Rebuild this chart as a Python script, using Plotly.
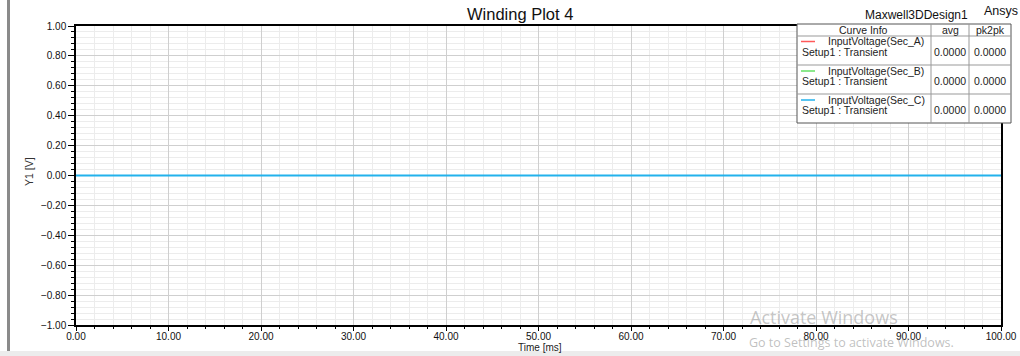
import plotly.graph_objects as go

# ---- data ----
time_ms = [0.0, 100.0]
sec_a = [0.0, 0.0]
sec_b = [0.0, 0.0]
sec_c = [0.0, 0.0]
curve_names = ["InputVoltage(Sec_A)", "InputVoltage(Sec_B)", "InputVoltage(Sec_C)"]
curve_setup = ["Setup1 : Transient", "Setup1 : Transient", "Setup1 : Transient"]
curve_colors = ["#ff5a5a", "#66e066", "#22b2ec"]
curve_widths = [1.0, 1.0, 2.0]
avg_vals = ["0.0000", "0.0000", "0.0000"]
pk2pk_vals = ["0.0000", "0.0000", "0.0000"]

W, H = 1020, 356
L, R, T, B = 76, 19, 26, 31
PW, PH = W - L - R, H - T - B

def px(x):
    return (x - L) / PW

def py(y):
    return 1 - (y - T) / PH

fig = go.Figure()
for ys, name, col, lw in zip([sec_a, sec_b, sec_c], curve_names, curve_colors, curve_widths):
    fig.add_trace(go.Scatter(x=time_ms, y=ys, mode="lines", name=name,
                             line=dict(color=col, width=lw), showlegend=False))

tickfont = dict(family="Liberation Sans, Arial", size=10, color="#111")
fig.update_xaxes(range=[0, 100], dtick=10, tick0=0, tickformat=".2f", automargin=False,
                 showgrid=True, gridcolor="#cfcfcf", gridwidth=1,
                 showline=True, linecolor="#000", linewidth=1.5, mirror=True,
                 ticks="outside", ticklen=4, tickcolor="#000", tickfont=tickfont,
                 ticklabelstandoff=-3,
                 zeroline=False,
                 minor=dict(dtick=2, showgrid=True, gridcolor="#ececec",
                            ticks="outside", ticklen=2, tickcolor="#000"))
fig.update_yaxes(range=[-1, 1], dtick=0.2, tick0=0, tickformat=".2f", automargin=False,
                 showgrid=True, gridcolor="#cfcfcf", gridwidth=1,
                 showline=True, linecolor="#000", linewidth=1.5, mirror=True,
                 ticks="outside", ticklen=6, tickcolor="#000", tickfont=tickfont,
                 zeroline=False,
                 minor=dict(dtick=0.04, showgrid=True, gridcolor="#ececec",
                            ticks="outside", ticklen=3, tickcolor="#000"))

shapes = []
annots = []

# left window bar and bottom band
shapes.append(dict(type="rect", xref="paper", yref="paper", x0=px(7), x1=px(10), y0=py(352), y1=py(0),
                   fillcolor="#8a8a8a", line=dict(width=0), layer="above"))
shapes.append(dict(type="rect", xref="paper", yref="paper", x0=px(0), x1=px(W), y0=py(356), y1=py(351),
                   fillcolor="#ececec", line=dict(width=0), layer="above"))

# legend table
bx0, bx1, by0, by1 = 797, 1011, 24, 123
c1, c2 = 931, 969
rows = [36, 65, 94]
shapes.append(dict(type="rect", xref="paper", yref="paper", x0=px(bx0), x1=px(bx1), y0=py(by1), y1=py(by0),
                   fillcolor="white", line=dict(color="#555", width=1), layer="above"))
for cx in (c1, c2):
    shapes.append(dict(type="line", xref="paper", yref="paper", x0=px(cx), x1=px(cx), y0=py(by1), y1=py(by0),
                       line=dict(color="#999", width=1), layer="above"))
for ry in rows:
    shapes.append(dict(type="line", xref="paper", yref="paper", x0=px(bx0), x1=px(bx1), y0=py(ry), y1=py(ry),
                       line=dict(color="#999", width=1), layer="above"))

lf = dict(family="Liberation Sans, Arial", size=10.5, color="#222")
def txt(x, y, s, xanchor="center", font=lf, angle=0):
    annots.append(dict(x=px(x), y=py(y), xref="paper", yref="paper", text=s, showarrow=False,
                       xanchor=xanchor, yanchor="middle", font=font, textangle=angle))

txt(863, 30.5, "Curve Info")
txt(950, 30.5, "avg")
txt(990, 30.5, "pk2pk")
line_y = [41.5, 71, 100]
for i in range(3):
    ly = line_y[i]
    shapes.append(dict(type="line", xref="paper", yref="paper", x0=px(801), x1=px(815), y0=py(ly), y1=py(ly),
                       line=dict(color=curve_colors[i], width=1.5), layer="above"))
    txt(826, ly, curve_names[i], xanchor="left")
    txt(800, ly + 10, curve_setup[i], xanchor="left")
    txt(950, ly + 10, avg_vals[i])
    txt(990, ly + 10, pk2pk_vals[i])

# titles
txt(520, 14, "Winding Plot 4", font=dict(family="Liberation Sans, Arial", size=16.5, color="#111"))
txt(916, 15, "Maxwell3DDesign1", font=dict(family="Liberation Sans, Arial", size=12, color="#111"))
txt(1001, 11, "Ansys", font=dict(family="Liberation Sans, Arial", size=12.5, color="#111"))

# axis titles
txt(540, 347, "Time [ms]", font=dict(family="Liberation Sans, Arial", size=10, color="#222"))
txt(29, 172, "Y1 [V]", font=dict(family="Liberation Sans, Arial", size=10.5, color="#333"), angle=-90)

# watermark
txt(748, 317, "Activate Windows", xanchor="left",
    font=dict(family="Open Sans, DejaVu Sans", size=18, color="rgba(150,150,150,0.55)"))
txt(747, 342, "Go to Settings to activate Windows.", xanchor="left",
    font=dict(family="Open Sans, DejaVu Sans", size=12.5, color="rgba(150,150,150,0.6)"))

fig.update_layout(width=W, height=H, margin=dict(l=L, r=R, t=T, b=B, pad=0),
                  paper_bgcolor="white", plot_bgcolor="white",
                  shapes=shapes, annotations=annots)

fig.write_html("out.html")
